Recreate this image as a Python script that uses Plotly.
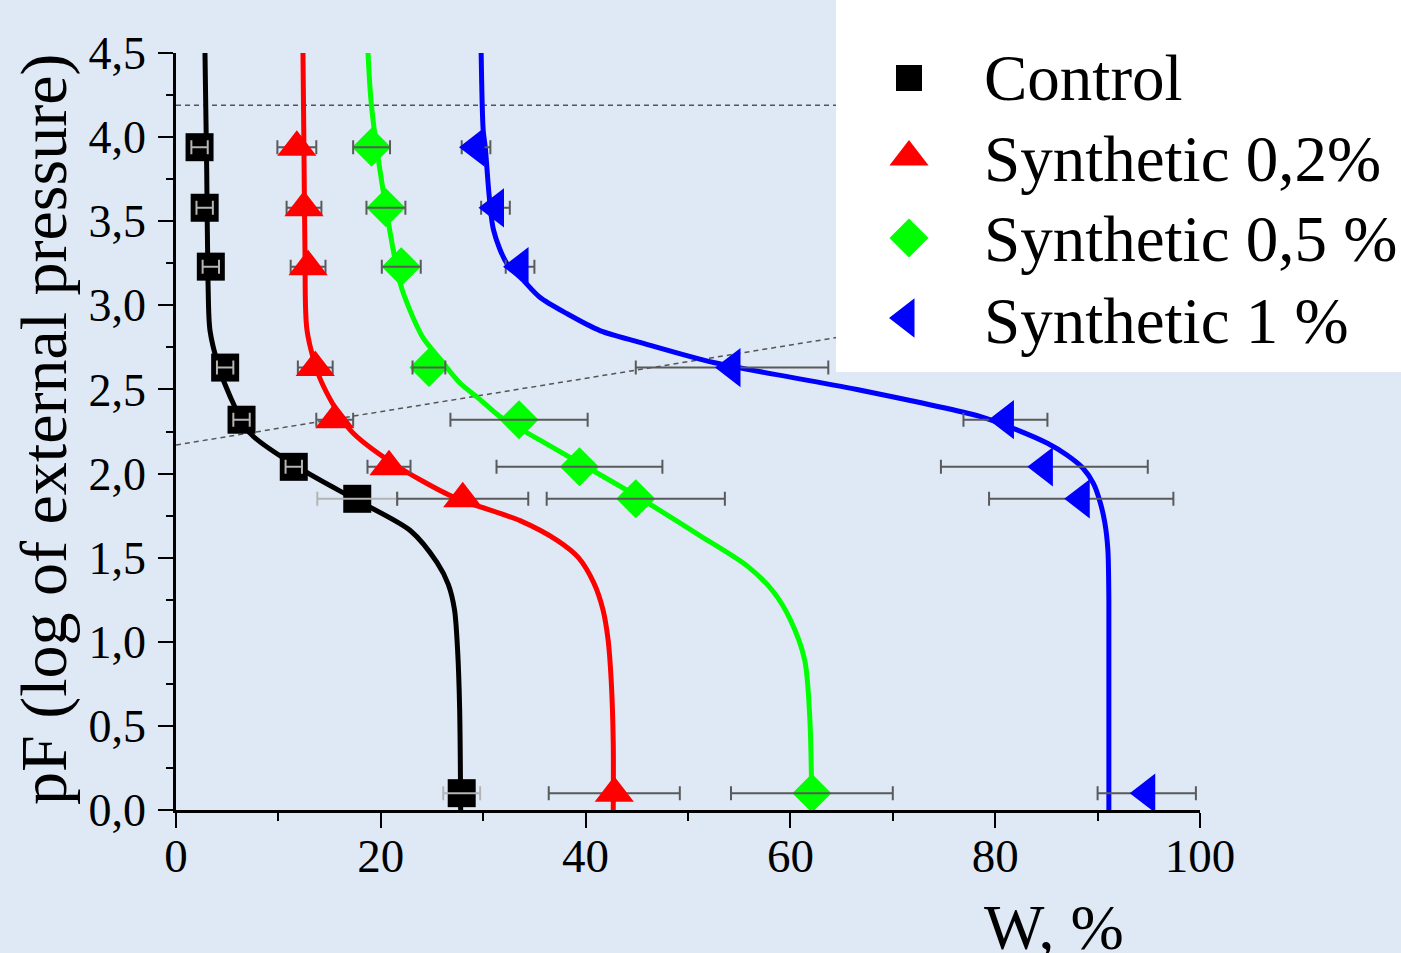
import plotly.graph_objects as go

# ---------------- data ----------------
pF = [3.94, 3.58, 3.23, 2.63, 2.32, 2.04, 1.85, 0.10]

control_w = [2.3, 2.8, 3.4, 4.8, 6.4, 11.5, 17.7, 27.9]
control_err = [0.8, 0.8, 0.8, 0.8, 0.8, 0.8, 3.9, 1.8]

syn02_w = [11.8, 12.5, 12.9, 13.6, 15.5, 20.8, 28.0, 42.8]
syn02_err = [1.9, 1.7, 1.7, 1.7, 1.8, 2.1, 6.4, 6.4]

syn05_w = [19.1, 20.5, 22.0, 24.7, 33.5, 39.4, 44.9, 62.1]
syn05_err = [1.8, 1.9, 1.9, 1.6, 6.7, 8.1, 8.7, 7.9]

syn1_w = [29.3, 31.2, 33.6, 54.3, 81.0, 84.8, 88.4, 94.8]
syn1_err = [1.4, 1.4, 1.4, 9.4, 4.1, 10.1, 9.0, 4.8]

# fitted curves
control_fit_w = [2.83, 3.0, 3.13, 3.32, 4.2, 5.27, 7.23, 12.4, 17.7, 22.9, 25.5, 26.6, 27.2, 27.5, 27.7, 27.8]
control_fit_pF = [4.5, 3.8, 3.13, 2.85, 2.63, 2.46, 2.24, 2.02, 1.84, 1.66, 1.47, 1.34, 1.19, 0.95, 0.6, 0.0]

syn02_fit_w = [12.4, 12.5, 12.6, 12.8, 14.1, 17.0, 21.2, 27.1, 33.6, 37.3, 39.3, 40.8, 41.7, 42.2, 42.5, 42.7, 42.7]
syn02_fit_pF = [4.5, 3.9, 3.3, 2.85, 2.56, 2.26, 2.06, 1.86, 1.72, 1.60, 1.50, 1.35, 1.19, 1.01, 0.77, 0.4, 0.0]

syn05_fit_w = [18.75, 19.1, 20.5, 21.9, 22.85, 24.1, 25.8, 27.7, 29.7, 31.6, 35.5, 39.5, 44.6,
               51.2, 55.8, 58.3, 60.0, 61.4, 61.9, 62.1]
syn05_fit_pF = [4.5, 4.18, 3.58, 3.13, 2.97, 2.81, 2.68, 2.54, 2.44, 2.34, 2.20, 2.06, 1.88,
                1.63, 1.45, 1.30, 1.13, 0.89, 0.54, 0.0]

syn1_fit_w = [29.8, 30.0, 30.2, 31.0, 32.3, 33.9, 35.5, 38.2, 41.4, 45.3, 52.5, 66.5, 78.5, 81.7,
              85.1, 87.0, 88.6, 89.6, 90.2, 90.7, 91.0, 91.1, 91.1]
syn1_fit_pF = [4.5, 4.04, 3.94, 3.45, 3.25, 3.15, 3.05, 2.95, 2.85, 2.78, 2.66, 2.50, 2.34, 2.27,
               2.18, 2.11, 2.03, 1.94, 1.84, 1.71, 1.55, 1.25, 0.0]

# reference dashed lines
hline_w = [0, 100]
hline_pF = [4.19, 4.19]
sline_w = [0, 100]
sline_pF = [2.17, 3.16]

series_names = ["Control", "Synthetic 0,2%", "Synthetic 0,5 %", "Synthetic 1 %"]
series_colors = ["#000000", "#ff0000", "#00ff00", "#0000ff"]
series_symbols = ["square", "triangle-up", "diamond", "triangle-left"]
series_sizes = [28, 34, 30, 34]

x_tickvals = [0, 20, 40, 60, 80, 100]
x_ticktext = ["0", "20", "40", "60", "80", "100"]
x_minor = [10, 30, 50, 70, 90]
y_tickvals = [0, 0.5, 1.0, 1.5, 2.0, 2.5, 3.0, 3.5, 4.0, 4.5]
y_ticktext = ["0,0", "0,5", "1,0", "1,5", "2,0", "2,5", "3,0", "3,5", "4,0", "4,5"]
y_minor = [0.25, 0.75, 1.25, 1.75, 2.25, 2.75, 3.25, 3.75, 4.25]

# ---------------- figure ----------------
W, H = 1401, 953
BG = "#dee9f5"
FONT = "Liberation Serif, Times New Roman, serif"
ERR = "#5a5a5a"

fig = go.Figure()

# dashed guide lines
for xs, ys in [(hline_w, hline_pF), (sline_w, sline_pF)]:
    fig.add_trace(go.Scatter(x=xs, y=ys, mode="lines", showlegend=False, hoverinfo="skip",
                             line=dict(color="#555555", width=1.5, dash="5px,4px")))

# fitted curves
fits = [(control_fit_w, control_fit_pF), (syn02_fit_w, syn02_fit_pF),
        (syn05_fit_w, syn05_fit_pF), (syn1_fit_w, syn1_fit_pF)]
for (xs, ys), c in zip(fits, series_colors):
    fig.add_trace(go.Scatter(x=xs, y=ys, mode="lines", line_shape="spline",
                             line=dict(color=c, width=5, smoothing=0.8), showlegend=False, hoverinfo="skip"))

data = [(control_w, control_err), (syn02_w, syn02_err), (syn05_w, syn05_err), (syn1_w, syn1_err)]
err_on_top = [True, False, True, False]
err_colors = ["#b4b4b4", ERR, ERR, ERR]

for (xs, es), name, c, sym, sz, top, ec in zip(data, series_names, series_colors, series_symbols,
                                               series_sizes, err_on_top, err_colors):
    ebar = dict(type="data", array=es, color=ec, thickness=2, width=7, visible=True)
    fig.add_trace(go.Scatter(x=xs, y=pF, mode="markers", name=name, showlegend=False,
                             marker=dict(symbol=sym, size=sz, color=c, line=dict(width=0)),
                             error_x=None if top else ebar))
    if top:
        fig.add_trace(go.Scatter(x=xs, y=pF, mode="markers", showlegend=False, hoverinfo="skip",
                                 marker=dict(size=1, opacity=0), error_x=ebar))

# ---- overlay subplot in pixel coordinates for the legend box ----
fig.add_trace(go.Scatter(x=[836, 1401, 1401, 836, 836], y=[0, 0, 372, 372, 0],
                         xaxis="x2", yaxis="y2", mode="lines", fill="toself",
                         fillcolor="white", line=dict(width=0, color="white"),
                         showlegend=False, hoverinfo="skip"))
leg_x = [909, 909, 909, 906]
leg_y = [78, 157, 238, 318]
leg_sizes = [26, 34, 30, 34]
for lx, ly, c, sym, sz in zip(leg_x, leg_y, series_colors, series_symbols, leg_sizes):
    fig.add_trace(go.Scatter(x=[lx], y=[ly], xaxis="x2", yaxis="y2", mode="markers",
                             marker=dict(symbol=sym, size=sz, color=c, line=dict(width=0)),
                             showlegend=False, hoverinfo="skip", cliponaxis=False))

text_y = [78, 159, 239, 321]
annotations = []
for name, ty in zip(series_names, text_y):
    annotations.append(dict(x=982, y=ty, xref="x2", yref="y2", text=name, showarrow=False,
                            xanchor="left", yanchor="middle",
                            font=dict(family=FONT, size=65, color="black")))
# axis titles
annotations.append(dict(x=1054, y=927, xref="x2", yref="y2", text="W, %", showarrow=False,
                        xanchor="center", yanchor="middle",
                        font=dict(family=FONT, size=64, color="black")))
annotations.append(dict(x=44, y=430, xref="x2", yref="y2", text="pF (log of external pressure)",
                        showarrow=False, textangle=-90, xanchor="center", yanchor="middle",
                        font=dict(family=FONT, size=66, color="black")))

x0, x1 = 176, 1200
y_top, y_bot = 53, 810

fig.update_layout(
    width=W, height=H,
    paper_bgcolor=BG, plot_bgcolor="rgba(0,0,0,0)",
    margin=dict(l=0, r=0, t=0, b=0, pad=0, autoexpand=False),
    showlegend=False,
    font=dict(family=FONT, color="black"),
    annotations=annotations,
    xaxis=dict(domain=[x0 / W, x1 / W], range=[0, 100], anchor="y", automargin=False,
               showgrid=False, zeroline=False, showline=True, linecolor="black", linewidth=2.5,
               ticks="outside", ticklen=15, tickwidth=2, tickcolor="black",
               tickmode="array", tickvals=x_tickvals, ticktext=x_ticktext,
               tickfont=dict(family=FONT, size=47, color="black"), ticklabelstandoff=-12,
               minor=dict(ticks="outside", ticklen=8, tickwidth=2, tickcolor="black",
                          tickmode="array", tickvals=x_minor, showgrid=False)),
    yaxis=dict(domain=[(H - y_bot) / H, (H - y_top) / H], range=[0, 4.5], anchor="x", automargin=False,
               showgrid=False, zeroline=False, showline=True, linecolor="black", linewidth=2.5,
               ticks="outside", ticklen=15, tickwidth=2, tickcolor="black",
               tickmode="array", tickvals=y_tickvals, ticktext=y_ticktext,
               tickfont=dict(family=FONT, size=46, color="black"), ticklabelstandoff=3,
               minor=dict(ticks="outside", ticklen=7, tickwidth=2, tickcolor="black",
                          tickmode="array", tickvals=y_minor, showgrid=False)),
    xaxis2=dict(domain=[0, 1], range=[0, W], anchor="y2", visible=False, fixedrange=True, automargin=False),
    yaxis2=dict(domain=[0, 1], range=[H, 0], anchor="x2", visible=False, fixedrange=True, automargin=False),
)

fig.write_html("out.html", config={"displayModeBar": False},
               post_script="document.body.style.margin='0';document.body.style.overflow='hidden';")
